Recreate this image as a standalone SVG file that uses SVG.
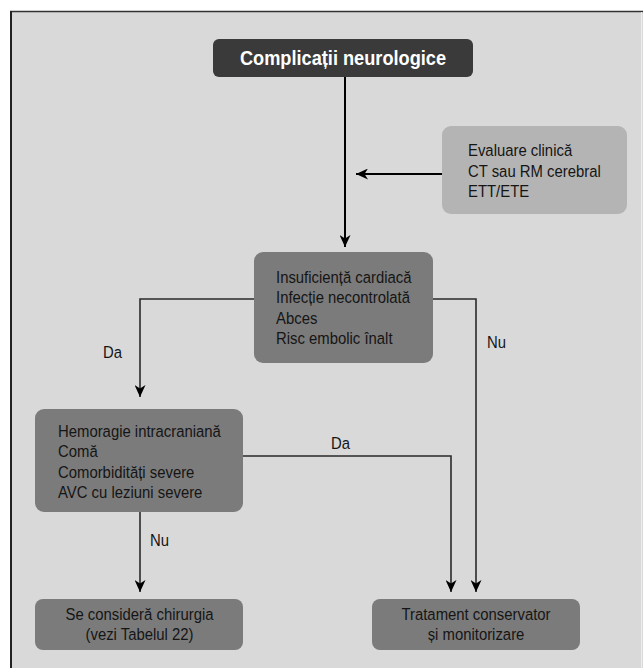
<svg xmlns="http://www.w3.org/2000/svg" width="643" height="668" viewBox="0 0 643 668">
<style>
.t{font-family:"Liberation Sans",Arial,sans-serif;font-size:17px;fill:#151515}
.title{font-family:"Liberation Sans",Arial,sans-serif;font-size:20px;font-weight:bold;fill:#ffffff}
.mid{fill:#7b7b7b}
.light{fill:#b4b4b4}
.dark{fill:#3a3a3a}
.c{fill:none;stroke:#2a2a2a;stroke-width:1.6}
.cb{fill:none;stroke:#000;stroke-width:2}
.lbl{font-family:"Liberation Sans",Arial,sans-serif;font-size:17px;fill:#151515}
</style>
<defs>
<marker id="ah" markerUnits="userSpaceOnUse" markerWidth="13" markerHeight="11" refX="12" refY="5.5" orient="auto" viewBox="0 0 13 11">
<path d="M12,5.5 L0,0 L3.5,5.5 L0,11 Z" fill="#000"/>
</marker>
</defs>
<rect x="0" y="0" width="643" height="668" fill="#ffffff"/>
<rect x="10" y="11" width="640" height="670" fill="#d9d9d9"/>
<line x1="10" y1="11.5" x2="643" y2="11.5" stroke="#333" stroke-width="1.5"/>
<line x1="11" y1="11" x2="11" y2="668" stroke="#222" stroke-width="2"/>
<line x1="641.5" y1="12" x2="641.5" y2="668" stroke="#eeeeee" stroke-width="1"/>

<g id="connectors">
<line class="cb" x1="345" y1="77" x2="345" y2="247" marker-end="url(#ah)"/>
<line class="cb" x1="442" y1="174" x2="356" y2="174" marker-end="url(#ah)"/>
<polyline class="c" points="254,299 140,299 140,397" marker-end="url(#ah)"/>
<polyline class="c" points="433,299 476,299 476,592" marker-end="url(#ah)"/>
<polyline class="c" points="243,456 451,456 451,592" marker-end="url(#ah)"/>
<line class="c" x1="140" y1="512" x2="140" y2="592" marker-end="url(#ah)"/>
<text class="lbl" transform="matrix(0.875,0,0,1,103,358)">Da</text>
<text class="lbl" transform="matrix(0.875,0,0,1,487,348)">Nu</text>
<text class="lbl" transform="matrix(0.875,0,0,1,331,449)">Da</text>
<text class="lbl" transform="matrix(0.875,0,0,1,150,546)">Nu</text>
</g>

<g id="n-complicatii">
<rect class="dark" x="213" y="39" width="260" height="38" rx="6"/>
<text class="title" text-anchor="middle" transform="matrix(0.91,0,0,1,343,65)">Complicații neurologice</text>
</g>

<g id="n-evaluare">
<rect class="light" x="442" y="126" width="185" height="88" rx="9"/>
<text class="t" transform="matrix(0.875,0,0,1,468,0)"><tspan x="0" y="156">Evaluare clinică</tspan><tspan x="0" y="177">CT sau RM cerebral</tspan><tspan x="0" y="197">ETT/ETE</tspan></text>
</g>

<g id="n-insuficienta">
<rect class="mid" x="254" y="252" width="179" height="111" rx="9"/>
<text class="t" transform="matrix(0.875,0,0,1,276,0)"><tspan x="0" y="283">Insuficiență cardiacă</tspan><tspan x="0" y="303">Infecție necontrolată</tspan><tspan x="0" y="324">Abces</tspan><tspan x="0" y="344">Risc embolic înalt</tspan></text>
</g>

<g id="n-hemoragie">
<rect class="mid" x="35" y="409" width="208" height="103" rx="9"/>
<text class="t" transform="matrix(0.875,0,0,1,58,0)"><tspan x="0" y="437">Hemoragie intracraniană</tspan><tspan x="0" y="457">Comă</tspan><tspan x="0" y="478">Comorbidități severe</tspan><tspan x="0" y="498">AVC cu leziuni severe</tspan></text>
</g>

<g id="n-chirurgie">
<rect class="mid" x="35" y="599" width="208" height="51" rx="8"/>
<text class="t" text-anchor="middle" transform="matrix(0.875,0,0,1,139.5,0)"><tspan x="0" y="620">Se consideră chirurgia</tspan><tspan x="0" y="640">(vezi Tabelul 22)</tspan></text>
</g>

<g id="n-tratament">
<rect class="mid" x="372" y="599" width="208" height="51" rx="8"/>
<text class="t" text-anchor="middle" transform="matrix(0.875,0,0,1,476,0)"><tspan x="0" y="620">Tratament conservator</tspan><tspan x="0" y="640">și monitorizare</tspan></text>
</g>
</svg>
